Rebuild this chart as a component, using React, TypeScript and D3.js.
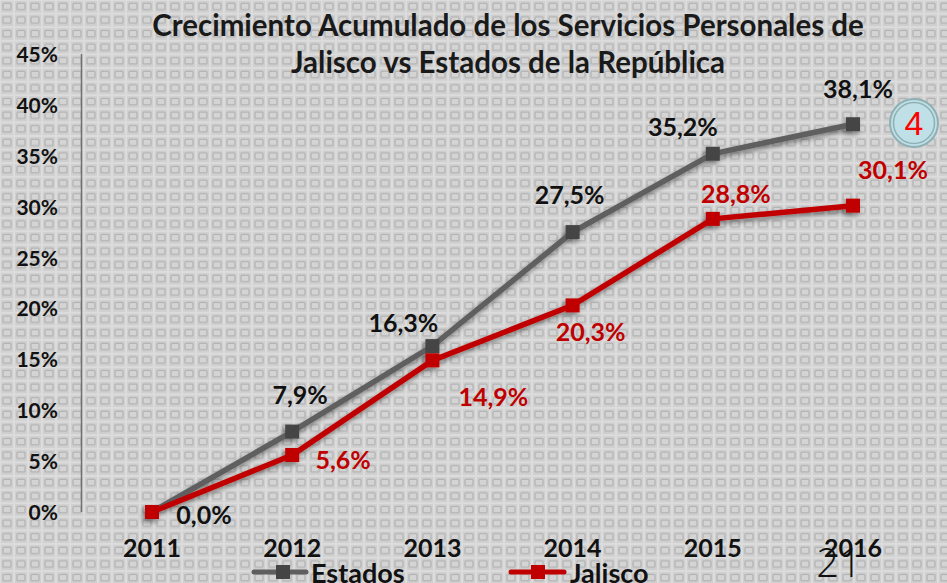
import React from "react";
import * as d3 from "d3";

const years = ["2011", "2012", "2013", "2014", "2015", "2016"];
const estados = [0, 7.9, 16.3, 27.5, 35.2, 38.1];
const jalisco = [0, 5.6, 14.9, 20.3, 28.8, 30.1];
const estadosLabels = ["0,0%", "7,9%", "16,3%", "27,5%", "35,2%", "38,1%"];
const jaliscoLabels = ["", "5,6%", "14,9%", "20,3%", "28,8%", "30,1%"];
const yTicks = [0, 5, 10, 15, 20, 25, 30, 35, 40, 45];
const titleLines = [
  "Crecimiento Acumulado de los Servicios Personales de",
  "Jalisco vs Estados de la República",
];

// label offsets relative to point (dx, dy baseline)
const estOff = [
  [52, 12],
  [8, -28],
  [-29, -14],
  [-3, -28],
  [-30, -18],
  [5, -26],
];
const jalOff = [
  [0, 0],
  [51, 14],
  [61, 46],
  [18, 36],
  [23, -16],
  [40, -27],
];

const W = 947;
const H = 583;
const FONT = "Lato, 'Open Sans', sans-serif";

export default function App() {
  const x = d3.scalePoint<string>().domain(years).range([152, 853]);
  const y = d3.scaleLinear().domain([0, 45]).range([512, 54]);
  const line = d3
    .line<number>()
    .x((_, i) => x(years[i]) as number)
    .y((d) => y(d));

  const ms = 14;
  return (
    <svg
      width={W}
      height={H}
      style={{ position: "absolute", left: 0, top: 0 }}
      fontFamily={FONT}
    >
      <defs>
        <pattern id="bg" width={14} height={13.6} patternUnits="userSpaceOnUse">
          <rect width={14} height={13.6} fill="#dcdcdc" />
          <rect x={1} y={1} width={12} height={11.6} fill="#d0d0d0" />
          <rect
            x={3}
            y={3.2}
            width={8}
            height={6.5}
            rx={1}
            fill="#d4d4d4"
            stroke="#b2b2b2"
            strokeWidth={1.2}
          />
        </pattern>
        <filter id="sh" x="-20%" y="-20%" width="140%" height="140%">
          <feDropShadow dx={-2} dy={3} stdDeviation={2.5} floodColor="#000" floodOpacity={0.45} />
        </filter>
      </defs>
      <rect width={W} height={H} fill="url(#bg)" />

      {/* title */}
      {titleLines.map((t, i) => (
        <text
          key={i}
          x={508}
          y={36 + i * 37}
          textAnchor="middle"
          fontSize={29.5}
          fontWeight={700}
          fill="#1a1a1a"
        >
          {t}
        </text>
      ))}

      {/* y axis */}
      <line x1={81.5} x2={81.5} y1={54} y2={512} stroke="#707070" strokeWidth={1.5} />
      {yTicks.map((t) => (
        <text
          key={t}
          x={58}
          y={y(t) + 8}
          textAnchor="end"
          fontSize={21}
          fontWeight={700}
          fill="#111"
        >
          {t}%
        </text>
      ))}

      {/* x labels */}
      {years.map((yr) => (
        <text
          key={yr}
          x={x(yr)}
          y={557}
          textAnchor="middle"
          fontSize={25}
          fontWeight={700}
          fill="#111"
        >
          {yr}
        </text>
      ))}

      {/* lines */}
      <g filter="url(#sh)">
        <path d={line(estados) || ""} fill="none" stroke="#5f5f5f" strokeWidth={5.5} />
        {estados.map((v, i) => (
          <rect
            key={i}
            x={(x(years[i]) as number) - ms / 2}
            y={y(v) - ms / 2}
            width={ms}
            height={ms}
            fill="#454545"
          />
        ))}
        <path d={line(jalisco) || ""} fill="none" stroke="#c00000" strokeWidth={5.5} />
        {jalisco.map((v, i) => (
          <rect
            key={i}
            x={(x(years[i]) as number) - ms / 2}
            y={y(v) - ms / 2}
            width={ms}
            height={ms}
            fill="#c00000"
          />
        ))}
      </g>

      {/* data labels */}
      {estados.map((v, i) => (
        <text
          key={"e" + i}
          x={(x(years[i]) as number) + estOff[i][0]}
          y={y(v) + estOff[i][1]}
          textAnchor="middle"
          fontSize={25}
          fontWeight={700}
          fill="#111"
        >
          {estadosLabels[i]}
        </text>
      ))}
      {jalisco.map((v, i) =>
        jaliscoLabels[i] ? (
          <text
            key={"j" + i}
            x={(x(years[i]) as number) + jalOff[i][0]}
            y={y(v) + jalOff[i][1]}
            textAnchor="middle"
            fontSize={25}
            fontWeight={700}
            fill="#c00000"
          >
            {jaliscoLabels[i]}
          </text>
        ) : null
      )}

      {/* legend */}
      <g>
        <line x1={254} x2={306} y1={572} y2={572} stroke="#5f5f5f" strokeWidth={5} strokeLinecap="round" />
        <rect x={276} y={565} width={14} height={14} fill="#454545" />
        <text x={311} y={583} fontSize={27} fontWeight={700} fill="#111">
          Estados
        </text>
        <line x1={511} x2={564} y1={572} y2={572} stroke="#c00000" strokeWidth={5} strokeLinecap="round" />
        <rect x={531} y={565} width={14} height={14} fill="#c00000" />
        <text x={570} y={583} fontSize={27} fontWeight={700} fill="#111">
          Jalisco
        </text>
      </g>

      {/* page number badge */}
      <circle cx={914} cy={123} r={24} fill="#bfe0e6" stroke="#8fb0b4" strokeWidth={2} />
      <circle cx={914} cy={123} r={20.5} fill="none" stroke="#8fb0b4" strokeWidth={1.5} />
      <text x={914} y={135} textAnchor="middle" fontSize={34} fill="#ff0000" fontFamily="'Liberation Sans', sans-serif">
        4
      </text>

      <text x={839} y={577} textAnchor="middle" fontSize={40} fill="#111" fontFamily="'Open Sans', sans-serif" fontWeight={300}>
        21
      </text>
    </svg>
  );
}
